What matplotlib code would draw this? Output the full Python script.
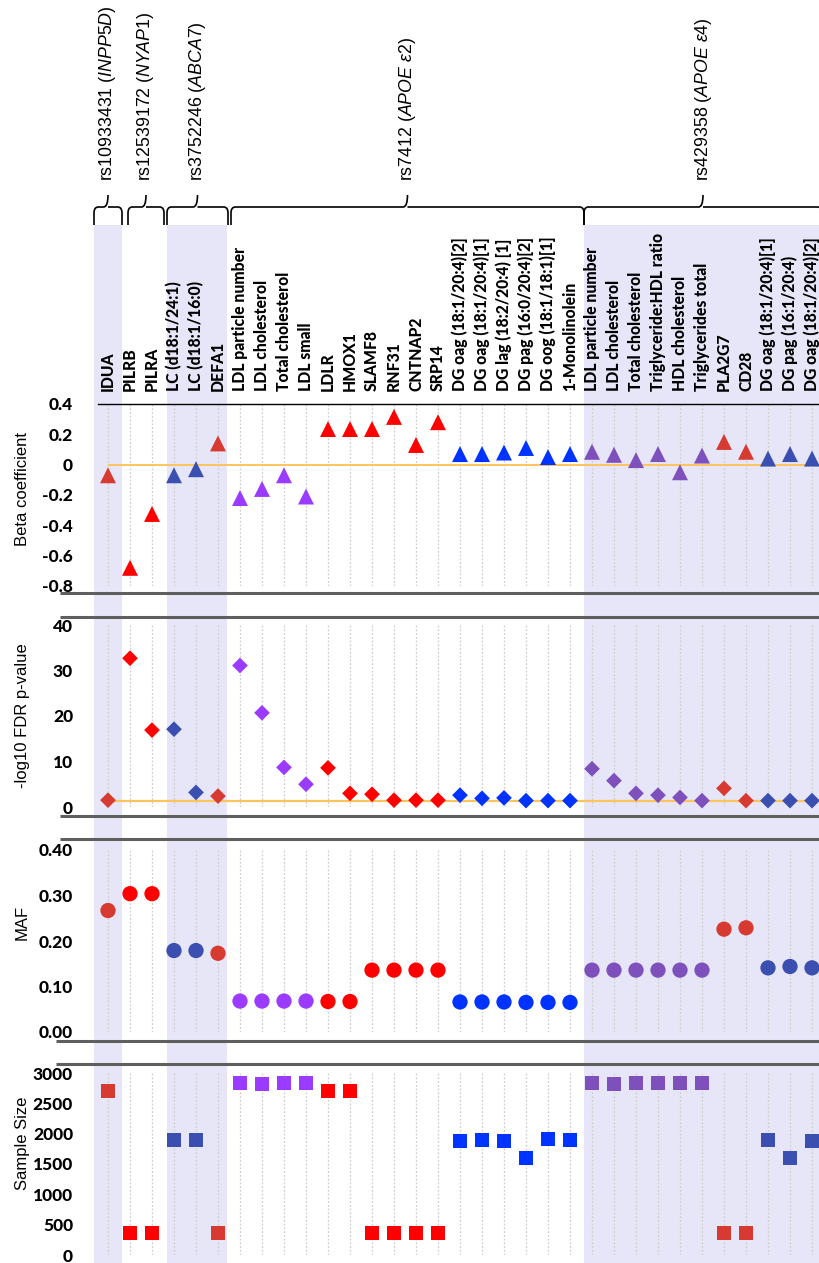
import numpy as np
import matplotlib
matplotlib.use("Agg")
import matplotlib.pyplot as plt
from matplotlib.path import Path
from matplotlib.patches import PathPatch

plt.rcParams['mathtext.fontset'] = 'custom'
plt.rcParams['mathtext.rm'] = 'Liberation Sans'
plt.rcParams['mathtext.it'] = 'Liberation Sans:italic'

# ---- data ----
traits = ["IDUA", "PILRB", "PILRA", "LC (d18:1/24:1)", "LC (d18:1/16:0)", "DEFA1",
          "LDL particle number", "LDL cholesterol", "Total cholesterol", "LDL small",
          "LDLR", "HMOX1", "SLAMF8", "RNF31", "CNTNAP2", "SRP14",
          "DG oag (18:1/20:4)[2]", "DG oag (18:1/20:4)[1]", "DG lag (18:2/20:4) [1]",
          "DG pag (16:0/20:4)[2]", "DG oog (18:1/18:1)[1]", "1-Monolinolein",
          "LDL particle number", "LDL cholesterol", "Total cholesterol",
          "Triglyceride:HDL ratio", "HDL cholesterol", "Triglycerides total",
          "PLA2G7", "CD28", "DG oag (18:1/20:4)[1]", "DG pag (16:1/20:4)",
          "DG oag (18:1/20:4)[2]"]

beta = [-0.07, -0.68, -0.325, -0.07, -0.03, 0.14, -0.22, -0.16, -0.07, -0.21,
        0.235, 0.235, 0.235, 0.315, 0.13, 0.28, 0.07, 0.07, 0.08, 0.11, 0.05, 0.07,
        0.085, 0.065, 0.03, 0.07, -0.05, 0.06, 0.15, 0.085, 0.04, 0.07, 0.04]

logp = [1.5, 32.7, 16.9, 17.1, 3.2, 2.4, 31.1, 20.7, 8.7, 5.0, 8.6, 3.0, 2.8,
        1.5, 1.5, 1.5, 2.6, 1.9, 2.0, 1.4, 1.4, 1.4, 8.4, 5.8, 3.0, 2.6, 2.1, 1.4,
        4.1, 1.4, 1.4, 1.4, 1.4]

maf = [0.267, 0.304, 0.304, 0.179, 0.179, 0.173, 0.068, 0.068, 0.068, 0.068,
       0.067, 0.067, 0.136, 0.136, 0.136, 0.136, 0.066, 0.066, 0.066, 0.065, 0.065,
       0.065, 0.136, 0.136, 0.136, 0.136, 0.136, 0.136, 0.226, 0.229, 0.141, 0.144,
       0.141]

nsize = [2698, 363, 363, 1895, 1900, 363, 2840, 2824, 2840, 2840, 2703, 2703,
         363, 363, 363, 363, 1884, 1900, 1884, 1604, 1917, 1900, 2835, 2824, 2835,
         2835, 2835, 2835, 363, 363, 1895, 1604, 1884]

# SNP groups
snps = ["rs10933431", "rs12539172", "rs3752246", "rs7412", "rs429358"]
genes = ["INPP5D", "NYAP1", "ABCA7", "APOE\\ ε2", "APOE\\ ε4"]

# ---- styling ----
group = ["dred", "red", "red", "dblue", "dblue", "dred"] + ["purple"] * 4 + ["red"] * 6 \
        + ["blue"] * 6 + ["mpurple"] * 6 + ["dred"] * 2 + ["dblue"] * 3
palette = {"red": "#FF0000", "dred": "#D63A31", "blue": "#0033FF",
           "dblue": "#3A4FAF", "purple": "#9B3BFF", "mpurple": "#7E50BC"}
colors = [palette[g] for g in group]

W, H = 819, 1263
x0_px, step = 108, 22          # pixel position of first trait, spacing
def ix(px):
    return (px - x0_px) / step

fig = plt.figure(figsize=(W / 100, H / 100), dpi=100)

# background axes in (trait-index, pixel-y) units
bg = fig.add_axes([0, 0, 1, 1], zorder=0)
bg.set_xlim(ix(0), ix(W))
bg.set_ylim(H, 0)
bg.axis("off")

band_col = "#E6E6F8"
for a, b in [(ix(94), ix(122)), (ix(167), ix(227)), (ix(584), ix(W + 5))]:
    bg.fill_between([a, b], 225, H, color=band_col, lw=0)

spans = [(ix(94), ix(122)), (ix(128), ix(164)), (ix(167), ix(228)),
         (ix(231), ix(584)), (ix(584), ix(822))]

def brace(ax, a, b, y_end=225, y_bar=207, y_tip=195):
    m = (a + b) / 2
    r = 0.2
    verts = [(a, y_end), (a, y_bar + 6), (a, y_bar), (a + r, y_bar), (m - r, y_bar),
             (m, y_bar), (m, y_tip),
             (m, y_bar), (m + r, y_bar), (b - r, y_bar), (b, y_bar), (b, y_bar + 6), (b, y_end)]
    codes = [Path.MOVETO, Path.LINETO, Path.CURVE3, Path.CURVE3, Path.LINETO,
             Path.CURVE3, Path.CURVE3,
             Path.MOVETO, Path.CURVE3, Path.LINETO, Path.CURVE3, Path.CURVE3, Path.LINETO]
    ax.add_patch(PathPatch(Path(verts, codes), fc="none", ec="black", lw=1.2,
                           clip_on=False))
    return m

for (a, b), s, g in zip(spans, snps, genes):
    m = brace(bg, a, b)
    bg.text(m, 181, s + " ($\\mathit{" + g + "}$)", rotation=90, ha="center",
            va="bottom", fontsize=12.8, family="Liberation Sans")

# break lines between panels
for y, xs in [(593, 60), (617, 60), (816, 60), (839, 60), (1041, 56), (1064, 56)]:
    bg.plot([ix(xs), ix(W)], [y, y], color="#5F5F5F", lw=2.2, solid_capstyle="butt")

# ---- data panels ----
left_px = 98
def make_ax(top_px, bot_px):
    ax = fig.add_axes([left_px / W, 1 - bot_px / H, (W - left_px) / W,
                       (bot_px - top_px) / H], zorder=2)
    ax.set_facecolor("none")
    ax.set_xlim(ix(left_px), ix(W))
    for sp in ax.spines.values():
        sp.set_visible(False)
    ax.set_xticks(range(len(traits)))
    ax.tick_params(axis="both", length=0)
    ax.tick_params(axis="y", pad=18)
    ax.grid(axis="x", color="#CFCFCF", linestyle=(0, (1.5, 1.5)), lw=0.9)
    ax.set_axisbelow(True)
    return ax

xs = np.arange(len(traits))
tick_font = dict(family="Lato", weight="black", size=12.5)
ylab_font = dict(family="Liberation Sans", size=12)

# panel 1: beta
ax1 = make_ax(404, 586)
ax1.set_ylim(-0.8, 0.4)
ax1.set_yticks([0.4, 0.2, 0, -0.2, -0.4, -0.6, -0.8])
ax1.set_yticklabels(["0.4", "0.2", "0", "-0.2", "-0.4", "-0.6", "-0.8"], **tick_font)
ax1.spines["top"].set_visible(True)
ax1.spines["top"].set_color("black")
ax1.spines["top"].set_linewidth(1.0)
ax1.xaxis.tick_top()
ax1.tick_params(axis="x", pad=9)
ax1.set_xticklabels(traits, rotation=90, family="Lato", weight="black", size=11.3)
ax1.hlines(0, 0, len(traits) - 1, color="#FFC45E", lw=1.4, zorder=2)
ax1.scatter(xs, beta, marker="^", s=11.5 ** 2, c=colors, lw=0, zorder=3, clip_on=False)
ax1.set_ylabel("Beta coefficient", **ylab_font)
ax1.yaxis.set_label_coords(-0.095, 0.533)

# panel 2: -log10 FDR p
ax2 = make_ax(625, 807)
ax2.set_ylim(0, 40)
ax2.set_yticks([0, 10, 20, 30, 40])
ax2.set_yticklabels(["0", "10", "20", "30", "40"], **tick_font)
ax2.set_xticklabels([])
ax2.hlines(-np.log10(0.05), 0, len(traits) - 1, color="#FFC45E", lw=1.6, zorder=2)
ax2.scatter(xs, logp, marker="D", s=8 ** 2, c=colors, lw=0, zorder=3, clip_on=False)
ax2.set_ylabel("-log10 FDR p-value", **ylab_font)
ax2.yaxis.set_label_coords(-0.095, 0.5)

# panel 3: MAF
ax3 = make_ax(850, 1032)
ax3.set_ylim(0, 0.4)
ax3.set_yticks([0, 0.1, 0.2, 0.3, 0.4])
ax3.set_yticklabels(["0.00", "0.10", "0.20", "0.30", "0.40"], **tick_font)
ax3.set_xticklabels([])
ax3.scatter(xs, maf, marker="o", s=11 ** 2, c=colors, lw=0, zorder=3, clip_on=False)
ax3.set_ylabel("MAF", **ylab_font)
ax3.yaxis.set_label_coords(-0.095, 0.6)

# panel 4: sample size
ax4 = make_ax(1073, 1255)
ax4.set_ylim(0, 3000)
ax4.set_yticks(range(0, 3001, 500))
ax4.set_yticklabels([str(v) for v in range(0, 3001, 500)], **tick_font)
ax4.set_xticklabels([])
ax4.scatter(xs, nsize, marker="s", s=10 ** 2, c=colors, lw=0, zorder=3, clip_on=False)
ax4.set_ylabel("Sample Size", **ylab_font)
ax4.yaxis.set_label_coords(-0.095, 0.615)

fig.savefig("out.png", dpi=100)
